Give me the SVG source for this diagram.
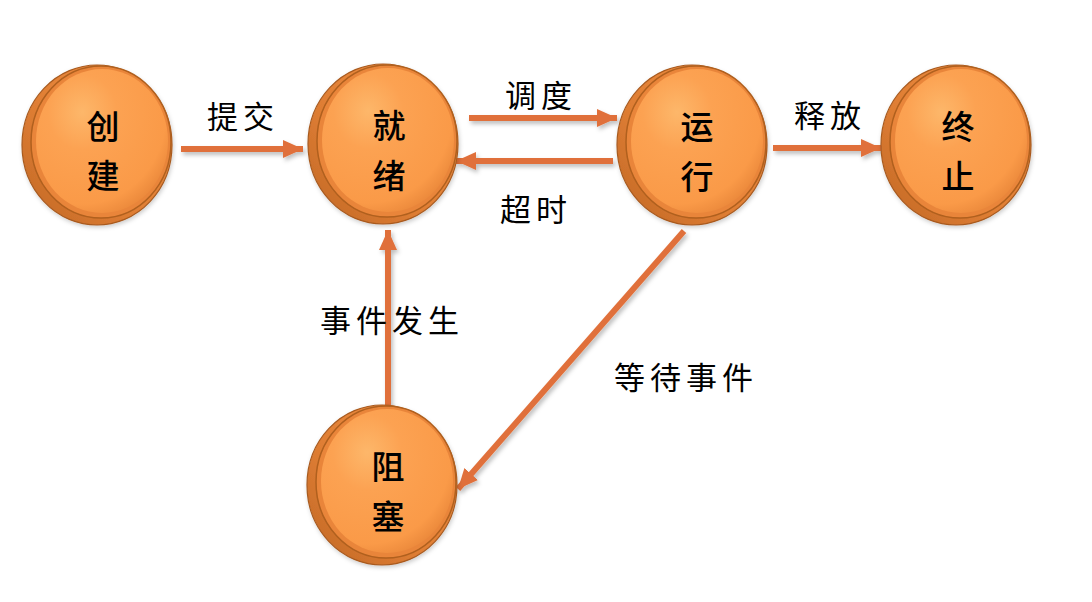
<svg xmlns="http://www.w3.org/2000/svg" xmlns:xlink="http://www.w3.org/1999/xlink" width="1092" height="602" viewBox="0 0 1092 602">
  <style>
    .lbl { font-family: "Noto Sans CJK SC", "Noto Sans CJK TC", sans-serif; font-size: 33px; font-weight: 500; fill: #000; text-anchor: middle; }
    .edge { font-family: "Noto Sans CJK SC", "Noto Sans CJK TC", sans-serif; font-size: 31px; fill: #000; text-anchor: middle; letter-spacing: 5px; }
    .arrow { stroke: #E0703A; stroke-width: 6; fill: none; marker-end: url(#head); filter: url(#shade); }
  </style>
  <defs>
    <marker id="head" markerUnits="userSpaceOnUse" markerWidth="22" markerHeight="22" viewBox="0 0 22 22" refX="20" refY="11" orient="auto">
      <path d="M0,2 L20,11 L0,20 Z" fill="#E0703A"/>
    </marker>
    <!-- user-space region so straight horizontal/vertical lines keep their shadow -->
    <filter id="shade" filterUnits="userSpaceOnUse" x="0" y="0" width="1092" height="602">
      <feDropShadow dx="2" dy="3" stdDeviation="2" flood-color="#000" flood-opacity="0.25"/>
    </filter>
    <filter id="coinShade" x="-20%" y="-20%" width="140%" height="140%">
      <feDropShadow dx="1" dy="2" stdDeviation="2" flood-color="#000" flood-opacity="0.2"/>
    </filter>
    <linearGradient id="rimGrad" x1="1" y1="0" x2="0" y2="1">
      <stop offset="0" stop-color="#F39245"/>
      <stop offset="0.6" stop-color="#DE7D33"/>
      <stop offset="1" stop-color="#C06726"/>
    </linearGradient>
    <radialGradient id="faceGrad" cx="0.35" cy="0.3" r="0.75">
      <stop offset="0" stop-color="#FDB76A"/>
      <stop offset="0.35" stop-color="#FCA252"/>
      <stop offset="0.85" stop-color="#FA9A48"/>
      <stop offset="1" stop-color="#EC8A3C"/>
    </radialGradient>
    <!-- shared coin body, drawn around its own centre -->
    <g id="coin">
      <ellipse cx="0" cy="0" rx="75" ry="80" fill="url(#rimGrad)" stroke="#A85A1F" stroke-width="1.2" filter="url(#coinShade)"/>
      <ellipse cx="4" cy="-3" rx="70" ry="76" fill="#E9853A" stroke="#B0601E" stroke-width="1.5"/>
      <ellipse cx="5" cy="-4" rx="66" ry="72" fill="url(#faceGrad)"/>
    </g>
  </defs>

  <rect width="1092" height="602" fill="#fff"/>

  <!-- connectors -->
  <g id="connectors">
    <line class="arrow" x1="181" y1="149" x2="303" y2="149"/>
    <line class="arrow" x1="469" y1="118" x2="617" y2="118"/>
    <line class="arrow" x1="613" y1="161" x2="456" y2="161"/>
    <line class="arrow" x1="773" y1="148" x2="881" y2="148"/>
    <line class="arrow" x1="388" y1="408" x2="388" y2="230"/>
    <line class="arrow" x1="684" y1="231" x2="458" y2="489"/>
    <text class="edge" x="243" y="128">提交</text>
    <text class="edge" x="541" y="107">调度</text>
    <text class="edge" x="536" y="221">超时</text>
    <text class="edge" x="830" y="127">释放</text>
    <text class="edge" x="392" y="332">事件发生</text>
    <text class="edge" x="686" y="389">等待事件</text>
  </g>

  <g id="node-create">
    <use xlink:href="#coin" x="97" y="145"/>
    <text class="lbl" x="103" y="139">创</text>
    <text class="lbl" x="103" y="188">建</text>
  </g>
  <g id="node-ready">
    <use xlink:href="#coin" x="383" y="144"/>
    <text class="lbl" x="389" y="138">就</text>
    <text class="lbl" x="389" y="188">绪</text>
  </g>
  <g id="node-running">
    <use xlink:href="#coin" x="692" y="145"/>
    <text class="lbl" x="697" y="139">运</text>
    <text class="lbl" x="697" y="189">行</text>
  </g>
  <g id="node-terminated">
    <use xlink:href="#coin" x="956" y="145"/>
    <text class="lbl" x="958" y="139">终</text>
    <text class="lbl" x="958" y="189">止</text>
  </g>
  <g id="node-blocked">
    <use xlink:href="#coin" x="382" y="485"/>
    <text class="lbl" x="388" y="479">阻</text>
    <text class="lbl" x="388" y="529">塞</text>
  </g>
</svg>
